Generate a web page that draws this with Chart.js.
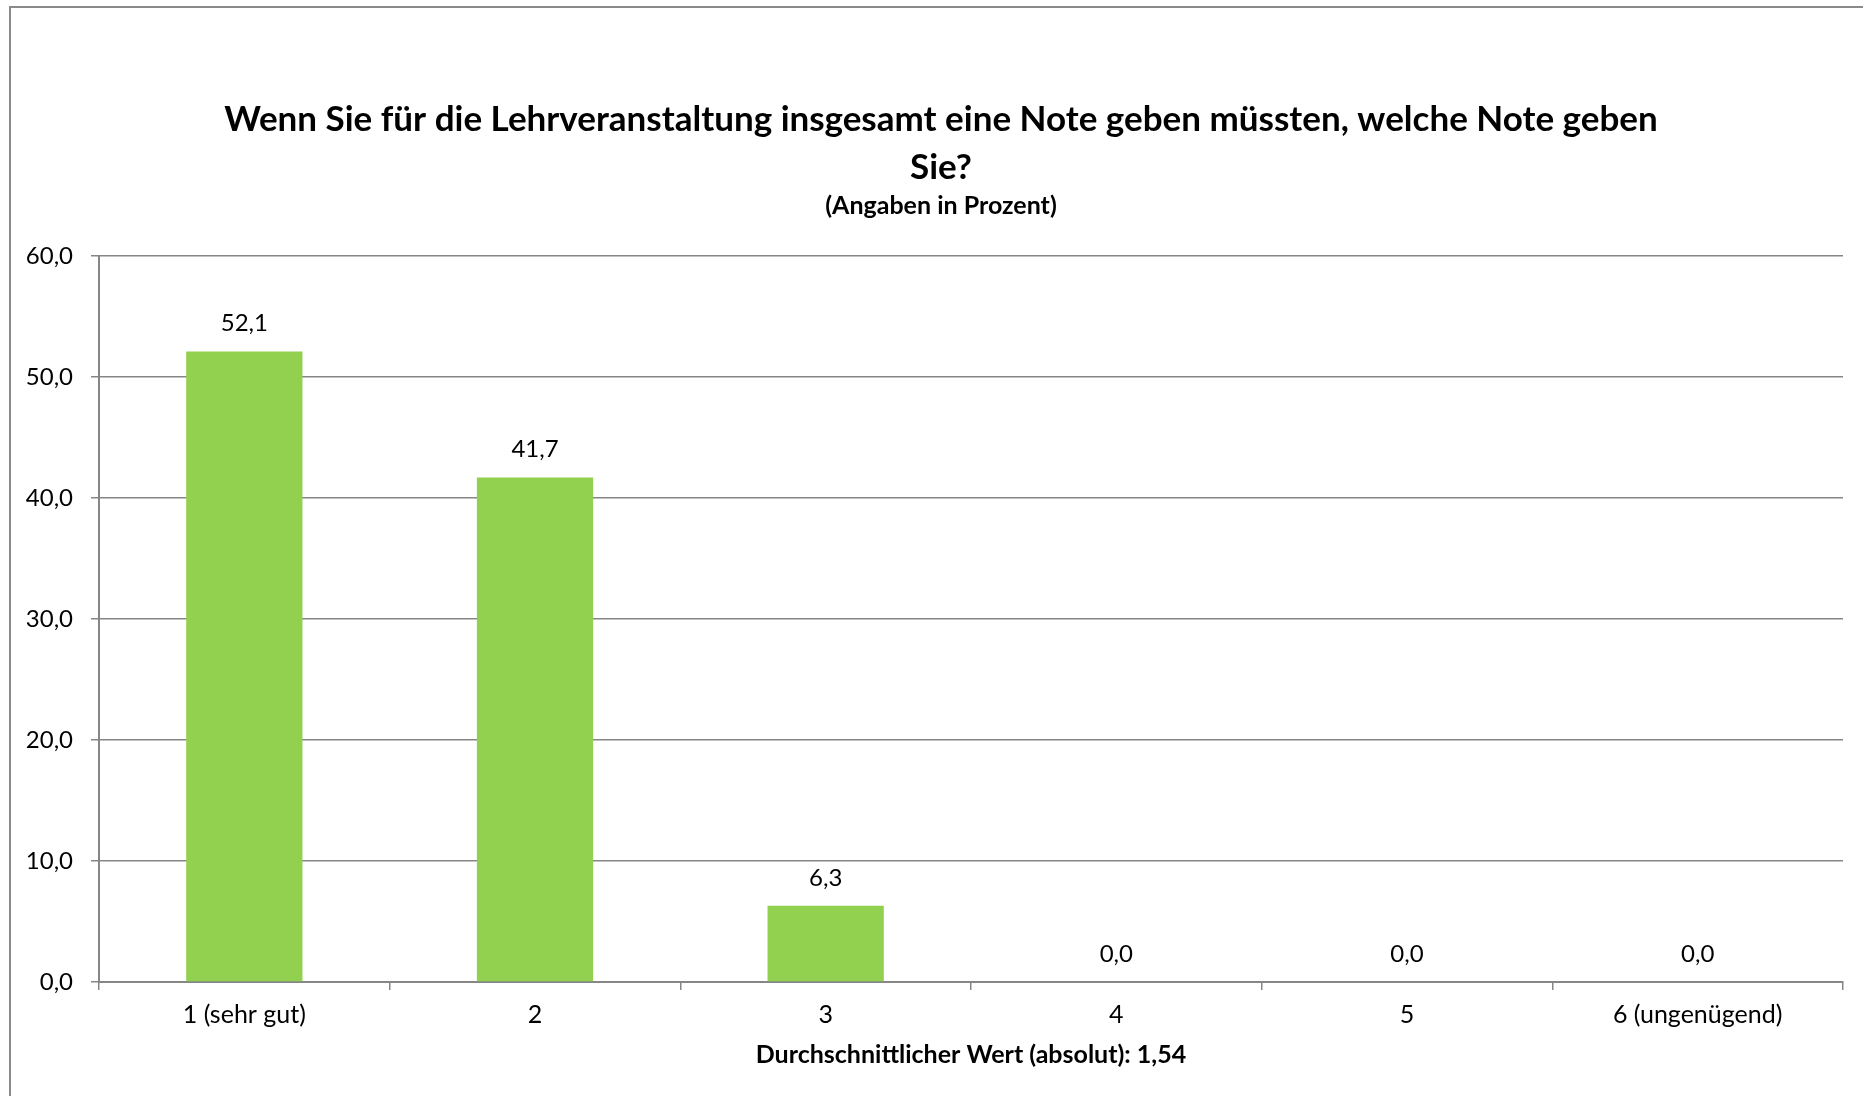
<!DOCTYPE html>
<html>
<head>
<meta charset="utf-8">
<script src="https://cdn.jsdelivr.net/npm/chart.js@4"></script>
<style>
  html, body { margin: 0; padding: 0; background: #fff; overflow: hidden; }
  #wrap { position: relative; width: 1863px; height: 1096px; }
  #frame {
    position: absolute; left: 9px; top: 6px; right: -10px; bottom: -10px;
    border-left: 2px solid #8a8a8a; border-top: 2px solid #8a8a8a;
  }
  canvas { position: absolute; left: 0; top: 0; }
</style>
</head>
<body>
<div id="wrap">
  <div id="frame"></div>
  <canvas id="grade-chart"></canvas>
</div>
<script>
const categories = ["1 (sehr gut)", "2", "3", "4", "5", "6 (ungenügend)"];
const percentValues = [52.1, 41.7, 6.3, 0.0, 0.0, 0.0];
const titleLines = [
  "Wenn Sie für die Lehrveranstaltung insgesamt eine Note geben müssten, welche Note geben",
  "Sie?"
];
const subtitleText = "(Angaben in Prozent)";
const xAxisTitle = "Durchschnittlicher Wert (absolut): 1,54";

const FONT = "Lato, 'Open Sans', sans-serif";
const gridGray = "#868686";

// Komma statt Punkt, eine Nachkommastelle
const fmt = (v) => Number(v).toFixed(1).replace(".", ",");

// Werte über die Balken schreiben
const valueLabels = {
  id: "valueLabels",
  afterDatasetsDraw(chart) {
    const c = chart.ctx;
    const meta = chart.getDatasetMeta(0);
    c.save();
    c.font = "24px " + FONT;
    c.fillStyle = "#000";
    c.textAlign = "center";
    c.textBaseline = "middle";
    meta.data.forEach((bar, i) => {
      c.fillText(fmt(chart.data.datasets[0].data[i]), bar.x, bar.y - 28);
    });
    c.restore();
  },
};

const ctx = document.getElementById("grade-chart").getContext("2d");

const chart = new Chart(ctx, {
  type: "bar",
  data: {
    labels: categories,
    datasets: [
      {
        data: percentValues,
        backgroundColor: "#92D050",
        borderWidth: 0,
        barPercentage: 0.4,
        categoryPercentage: 1,
      },
    ],
  },
  options: {
    responsive: true,
    maintainAspectRatio: false,
    animation: false,
    layout: {
      padding: { left: 20, right: 1, top: 0, bottom: 26 },
    },
    plugins: {
      legend: { display: false },
      tooltip: { enabled: false },
      title: {
        display: true,
        text: titleLines,
        color: "#000",
        font: { family: FONT, size: 35, weight: "bold", lineHeight: 48 / 35 },
        padding: { top: 96, bottom: 0 },
      },
      subtitle: {
        display: true,
        text: subtitleText,
        color: "#000",
        font: { family: FONT, size: 25, weight: "bold", lineHeight: 28 / 25 },
        padding: { top: 0, bottom: 36 },
      },
    },
    scales: {
      x: {
        grid: {
          display: true,
          drawOnChartArea: false,
          drawTicks: true,
          tickLength: 8,
          color: gridGray,
          lineWidth: 1.5,
          offset: true,
        },
        border: { color: gridGray, width: 2 },
        ticks: {
          color: "#000",
          padding: 10,
          font: { family: FONT, size: 25 },
          maxRotation: 0,
        },
        title: {
          display: true,
          text: xAxisTitle,
          color: "#000",
          font: { family: FONT, size: 25, weight: "bold", lineHeight: 1.2 },
          padding: { top: 0, bottom: 0 },
        },
      },
      y: {
        min: 0,
        max: 60,
        afterFit(scale) {
          scale.width = 79;
        },
        grid: {
          color: gridGray,
          lineWidth: 1.5,
          drawTicks: true,
          tickLength: 8,
        },
        border: { color: gridGray, width: 2 },
        ticks: {
          stepSize: 10,
          color: "#000",
          padding: 18,
          font: { family: FONT, size: 24 },
          callback: (v) => fmt(v),
        },
      },
      // leere rechte Achse, nur als Abstand damit der Titel mittig sitzt
      spacer: {
        type: "linear",
        position: "right",
        display: true,
        afterFit(scale) {
          scale.width = 19;
        },
        grid: { display: false },
        border: { display: false },
        ticks: { display: false },
      },
    },
  },
  plugins: [valueLabels],
});
</script>
</body>
</html>
